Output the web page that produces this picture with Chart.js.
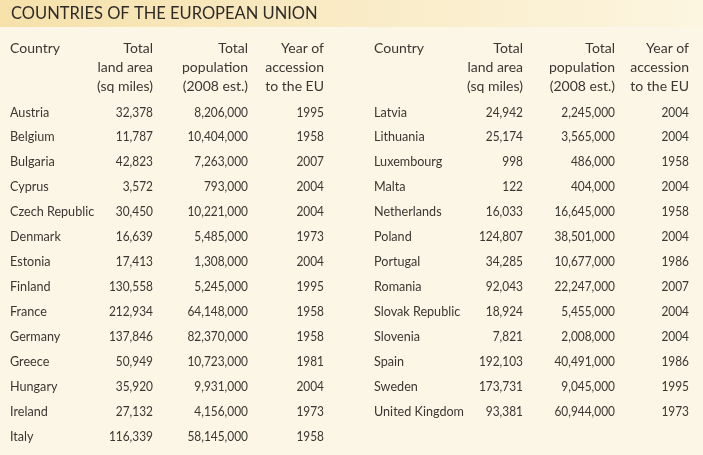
<!DOCTYPE html>
<html>
<head>
<meta charset="utf-8">
<script src="https://cdn.jsdelivr.net/npm/chart.js@4/dist/chart.umd.min.js"></script>
<style>
  html, body { margin: 0; padding: 0; background: #fbf6e6; }
  #wrap { width: 703px; height: 455px; position: relative; }
</style>
</head>
<body>
<div id="wrap"><canvas id="chart"></canvas></div>
<script>
const title = 'COUNTRIES OF THE EUROPEAN UNION';
const headers = [
  ['Country'],
  ['Total', 'land area', '(sq miles)'],
  ['Total', 'population', '(2008 est.)'],
  ['Year of', 'accession', 'to the EU']
];

const countries = ['Austria', 'Belgium', 'Bulgaria', 'Cyprus', 'Czech Republic', 'Denmark', 'Estonia',
  'Finland', 'France', 'Germany', 'Greece', 'Hungary', 'Ireland', 'Italy',
  'Latvia', 'Lithuania', 'Luxembourg', 'Malta', 'Netherlands', 'Poland', 'Portugal',
  'Romania', 'Slovak Republic', 'Slovenia', 'Spain', 'Sweden', 'United Kingdom'];
const landArea = [32378, 11787, 42823, 3572, 30450, 16639, 17413,
  130558, 212934, 137846, 50949, 35920, 27132, 116339,
  24942, 25174, 998, 122, 16033, 124807, 34285,
  92043, 18924, 7821, 192103, 173731, 93381];
const population = [8206000, 10404000, 7263000, 793000, 10221000, 5485000, 1308000,
  5245000, 64148000, 82370000, 10723000, 9931000, 4156000, 58145000,
  2245000, 3565000, 486000, 404000, 16645000, 38501000, 10677000,
  22247000, 5455000, 2008000, 40491000, 9045000, 60944000];
const accession = [1995, 1958, 2007, 2004, 2004, 1973, 2004,
  1995, 1958, 1958, 1981, 2004, 1973, 1958,
  2004, 2004, 1958, 2004, 1958, 2004, 1986,
  2007, 2004, 2004, 1986, 1995, 1973];

const rowsInFirstBlock = 14;

// column anchors (x in px), first block then second block
const colAnchors = [[10, 153, 248, 324], [374, 523, 615, 689]];
const colAlign = ['left', 'right', 'right', 'right'];
const colSqueeze = [0.9, 0.85, 0.85, 0.85];
const headerRows = [-2.53, -1.77, -1.04];

const fmt = v => v.toLocaleString('en-US');

// one dataset per column
const columns = [countries, landArea.map(fmt), population.map(fmt), accession.map(String)];
const datasets = columns.map((col, c) => ({
  label: 'col' + c,
  data: col.map((txt, i) => {
    const block = i < rowsInFirstBlock ? 0 : 1;
    const row = block ? i - rowsInFirstBlock : i;
    return {x: colAnchors[block][c], y: row, text: txt, align: colAlign[c], sx: colSqueeze[c]};
  }),
  pointRadius: 0
}));

// header cells
const headerData = [];
[0, 1].forEach(block => {
  headers.forEach((lines, c) => {
    lines.forEach((txt, l) => {
      headerData.push({x: colAnchors[block][c], y: headerRows[l], text: txt, align: colAlign[c], sx: 1});
    });
  });
});
datasets.push({label: 'header', data: headerData, pointRadius: 0});

const fontFamily = 'Lato, "Open Sans", sans-serif';

const tablePlugin = {
  id: 'tableText',
  beforeDraw(chart) {
    const ctx = chart.ctx;
    ctx.save();
    ctx.fillStyle = '#fbf6e6';
    ctx.fillRect(0, 0, chart.width, chart.height);
    const g = ctx.createLinearGradient(0, 0, chart.width, 0);
    g.addColorStop(0, '#f6e1ab');
    g.addColorStop(0.5, '#f9ebc6');
    g.addColorStop(1, '#fcf5e0');
    ctx.fillStyle = g;
    ctx.fillRect(0, 0, chart.width, 27);
    ctx.fillStyle = '#2e2b27';
    ctx.font = '16.5px ' + fontFamily;
    ctx.textBaseline = 'middle';
    ctx.textAlign = 'left';
    ctx.fillText(title, 11, 14);
    ctx.restore();
  },
  afterDatasetsDraw(chart) {
    const ctx = chart.ctx;
    ctx.save();
    ctx.textBaseline = 'middle';
    chart.data.datasets.forEach((ds, di) => {
      const meta = chart.getDatasetMeta(di);
      ctx.font = '14px ' + fontFamily;
      ctx.fillStyle = '#3a3732';
      meta.data.forEach((pt, i) => {
        const d = ds.data[i];
        ctx.save();
        ctx.translate(pt.x, pt.y);
        ctx.scale(d.sx, 1);
        ctx.textAlign = d.align;
        ctx.fillText(d.text, 0, 0);
        ctx.restore();
      });
    });
    ctx.restore();
  }
};

new Chart(document.getElementById('chart'), {
  type: 'scatter',
  data: {datasets: datasets},
  options: {
    responsive: true,
    maintainAspectRatio: false,
    animation: false,
    layout: {padding: 0},
    plugins: {legend: {display: false}, tooltip: {enabled: false}},
    scales: {
      x: {type: 'linear', display: false, min: 0, max: 703},
      y: {type: 'linear', display: false, reverse: true, min: -112 / 24.95, max: (455 - 112) / 24.95}
    }
  },
  plugins: [tablePlugin]
});
</script>
</body>
</html>
